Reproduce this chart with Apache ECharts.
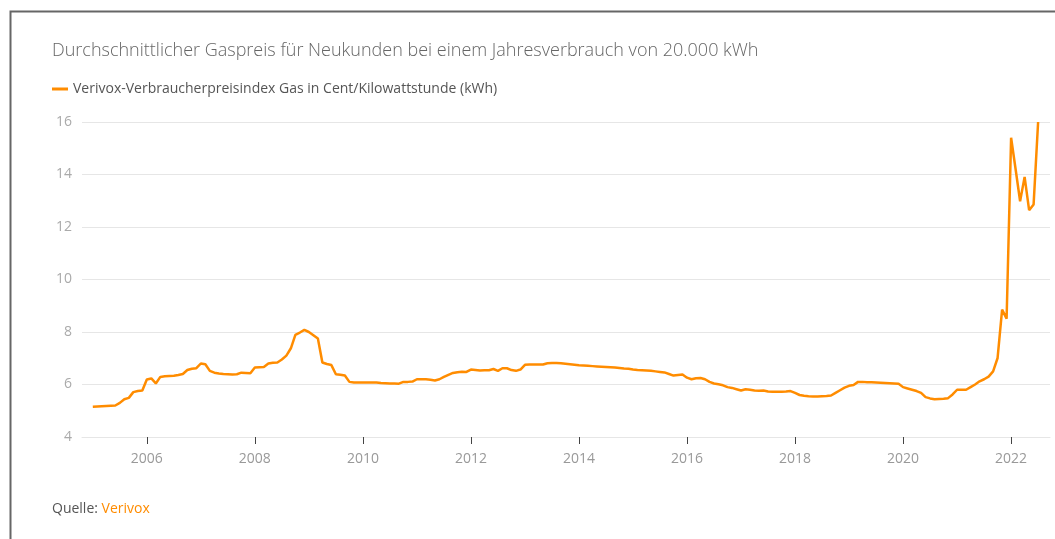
<!DOCTYPE html>
<html>
<head>
<meta charset="utf-8">
<script src="https://cdn.jsdelivr.net/npm/echarts@6/dist/echarts.min.js"></script>
<style>
  html, body { margin: 0; padding: 0; background: #fff; }
  #chart { width: 1055px; height: 539px; }
</style>
</head>
<body>
<div id="chart"></div>
<script>
// Verivox-Verbraucherpreisindex Gas, Cent/kWh, monatlich ab Januar 2005
const firstYear = 2005;
const gasPrice = [
  5.15, 5.16, 5.17, 5.18, 5.19, 5.2, 5.3, 5.44, 5.49, 5.71, 5.75, 5.77, // 2005
  6.19, 6.23, 6.04, 6.29, 6.31, 6.32, 6.33, 6.36, 6.4, 6.55, 6.6, 6.62, // 2006
  6.8, 6.77, 6.52, 6.45, 6.42, 6.4, 6.39, 6.38, 6.39, 6.45, 6.44, 6.43, // 2007
  6.65, 6.66, 6.67, 6.8, 6.83, 6.84, 6.95, 7.1, 7.38, 7.89, 7.98, 8.08, // 2008
  8.0, 7.88, 7.75, 6.84, 6.78, 6.74, 6.39, 6.37, 6.34, 6.1, 6.08, 6.08, // 2009
  6.08, 6.08, 6.08, 6.08, 6.06, 6.05, 6.04, 6.04, 6.03, 6.1, 6.1, 6.11, // 2010
  6.2, 6.2, 6.2, 6.18, 6.15, 6.2, 6.29, 6.37, 6.44, 6.47, 6.49, 6.48, // 2011
  6.57, 6.55, 6.53, 6.54, 6.54, 6.59, 6.52, 6.62, 6.62, 6.55, 6.52, 6.57, // 2012
  6.75, 6.76, 6.76, 6.76, 6.76, 6.81, 6.82, 6.82, 6.81, 6.79, 6.77, 6.75, // 2013
  6.73, 6.72, 6.71, 6.7, 6.69, 6.68, 6.67, 6.66, 6.65, 6.63, 6.61, 6.6, // 2014
  6.57, 6.55, 6.54, 6.53, 6.52, 6.5, 6.48, 6.46, 6.4, 6.34, 6.36, 6.38, // 2015
  6.26, 6.2, 6.24, 6.25, 6.2, 6.1, 6.04, 6.01, 5.97, 5.9, 5.87, 5.82, // 2016
  5.77, 5.82, 5.8, 5.77, 5.76, 5.77, 5.73, 5.72, 5.72, 5.72, 5.73, 5.75, // 2017
  5.68, 5.6, 5.57, 5.55, 5.54, 5.54, 5.55, 5.56, 5.58, 5.68, 5.78, 5.88, // 2018
  5.95, 5.98, 6.1, 6.1, 6.09, 6.09, 6.08, 6.07, 6.06, 6.05, 6.04, 6.03, // 2019
  5.9, 5.85, 5.8, 5.75, 5.68, 5.52, 5.47, 5.44, 5.45, 5.46, 5.48, 5.62, // 2020
  5.8, 5.8, 5.8, 5.9, 6.0, 6.12, 6.2, 6.3, 6.5, 7.01, 8.85, 8.51, // 2021
  15.4, 14.2, 12.98, 13.91, 12.64, 12.86, 16.0 // 2022
];
const yearTicks = [2006, 2008, 2010, 2012, 2014, 2016, 2018, 2020, 2022];

const seriesName = "Verivox-Verbraucherpreisindex Gas in Cent/Kilowattstunde (kWh)";
const orange = "#ff8c00";
const font = "'Open Sans', sans-serif";

// x = Jahr + Monat/12
const points = gasPrice.map((v, i) => [firstYear + i / 12, v]);

const chart = echarts.init(document.getElementById("chart"));

chart.setOption({
  animation: false,
  title: [
    {
      text: "Durchschnittlicher Gaspreis für Neukunden bei einem Jahresverbrauch von 20.000 kWh",
      left: 47,
      top: 37,
      textStyle: { fontFamily: font, fontSize: 18, fontWeight: 300, color: "#666" },
    },
    {
      text: "{a|Quelle: }{b|Verivox}",
      left: 47,
      top: 497,
      textStyle: {
        fontWeight: "normal",
        rich: {
          a: { fontFamily: font, fontSize: 14, fontWeight: "normal", color: "#555" },
          b: { fontFamily: font, fontSize: 14, fontWeight: "normal", color: orange },
        },
      },
    },
  ],
  legend: {
    left: 47,
    top: 77,
    icon: "rect",
    itemWidth: 16,
    itemHeight: 3,
    itemGap: 7,
    textStyle: { fontFamily: font, fontSize: 14, color: "#555" },
    data: [seriesName],
  },
  graphic: [
    {
      type: "rect",
      left: 8,
      top: 9,
      shape: { width: 1100, height: 600 },
      style: { fill: "none", stroke: "#666", lineWidth: 2 },
      silent: true,
    },
  ],
  grid: { left: 82, right: 5, top: 122, bottom: 102 },
  xAxis: {
    type: "value",
    min: 2004.8,
    max: 2022.72,
    axisLine: { show: true, lineStyle: { color: "#e6e6e6", width: 1 } },
    axisTick: {
      show: true,
      length: 7,
      customValues: yearTicks,
      lineStyle: { color: "#444", width: 1 },
    },
    axisLabel: {
      customValues: yearTicks,
      formatter: (val) => String(Math.round(val)),
      margin: 15,
      fontFamily: font,
      fontSize: 14,
      color: "#999",
    },
    splitLine: { show: false },
  },
  yAxis: {
    type: "value",
    min: 4,
    max: 16,
    interval: 2,
    axisLine: { show: false },
    axisTick: { show: false },
    axisLabel: { margin: 10, fontFamily: font, fontSize: 14, color: "#aaa" },
    splitLine: { lineStyle: { color: "#e6e6e6", width: 1 } },
  },
  series: [
    {
      name: seriesName,
      type: "line",
      data: points,
      showSymbol: false,
      symbol: "none",
      lineStyle: { color: orange, width: 2.5 },
      itemStyle: { color: orange },
    },
  ],
});
</script>
</body>
</html>
